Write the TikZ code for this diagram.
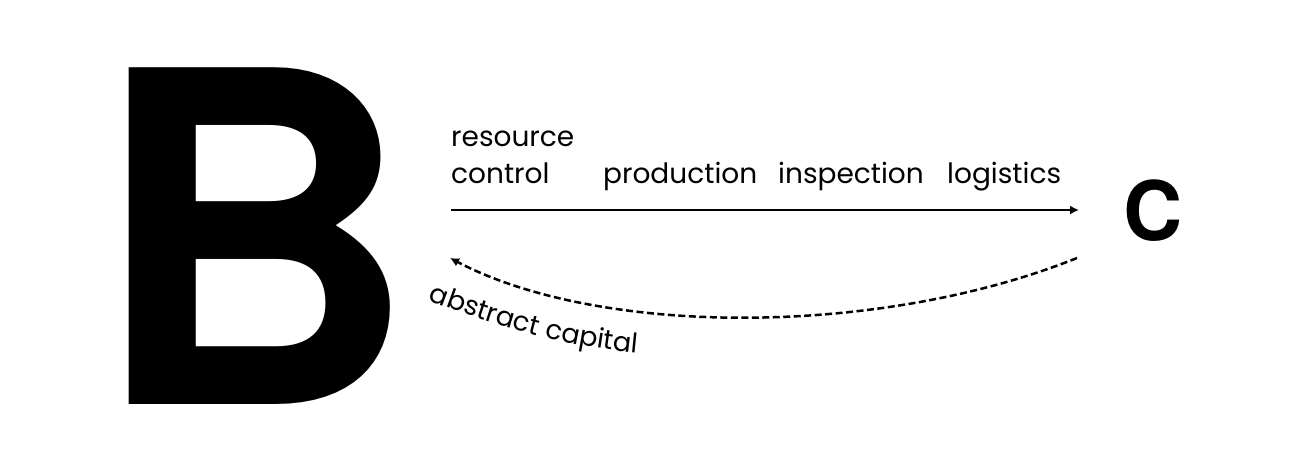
\documentclass[tikz,border=0pt]{standalone}
\usepackage{fontspec}
\setmainfont{Poppins}
\newfontfamily\heros{TeX Gyre Heros}
\usetikzlibrary{arrows.meta, decorations.text}
\tikzstyle{big} = [inner sep = 0, anchor = base west]
\tikzstyle{lbl} = [inner sep = 0, anchor = base west, font = \fontsize{28}{28}\selectfont]
\tikzstyle{line} = [draw, line width = 2.5pt, -{Latex[length=9pt, width=9pt]}]
\tikzstyle{back} = [line, dash pattern = on 7pt off 3.5pt]

\begin{document}
\begin{tikzpicture}[x=1pt, y=-1pt]
			\useasboundingbox (0,0) rectangle (1294,468);
			\node [big, font = \fontsize{462}{462}\heros\bfseries] (B) at (92, 404) {\scalebox{0.968}[1]{B}};
			\node [big, font = \fontsize{82}{82}\heros\bfseries] (C) at (1123, 240.5) {C};
			
			\node [lbl] (res) at (451, 147) {resource};
			\node [lbl] (ctrl) at (451, 184) {control};
			\node [lbl] (prod) at (603, 184) {production};
			\node [lbl] (insp) at (778, 184) {inspection};
			\node [lbl] (logi) at (947, 184) {logistics};
			
			\coordinate (s) at (451, 210);
			\coordinate (e) at (1079, 210);
			\coordinate (r) at (1077, 258);
			\coordinate (l) at (450, 258);
			
			\path [line] (s) -- (e);
			\path [back] (r) .. controls (880, 337) and (600, 337) .. (l);
			\path [decorate, decoration = {text along path, text align = left,
				text = {|\fontsize{27}{27}\selectfont|abstract capital}}]
				(428, 300) .. controls (500, 328) and (570, 348) .. (650, 354);
		\end{tikzpicture}
\end{document}
